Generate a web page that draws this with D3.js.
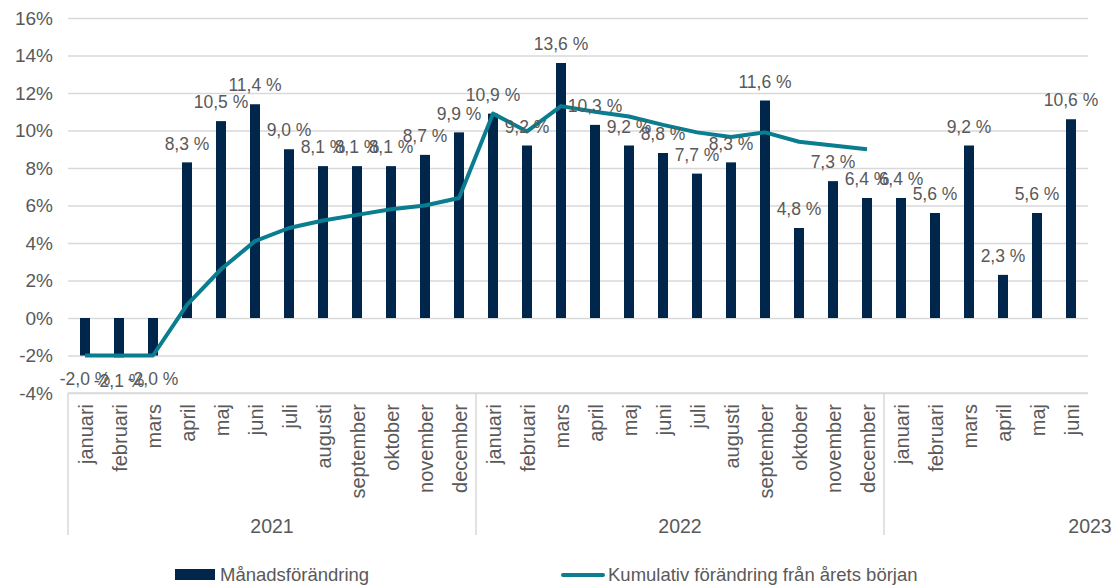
<!DOCTYPE html>
<html>
<head>
<meta charset="utf-8">
<script src="https://cdn.jsdelivr.net/npm/d3@7"></script>
<style>
  body { margin: 0; background: #fff; }
  svg text { font-family: "Liberation Sans", Arial, sans-serif; fill: #595959; }
</style>
</head>
<body>
<svg id="chart" width="1114" height="586"></svg>
<script>
const years = ['2021', '2022', '2023'];
const months = ['januari', 'februari', 'mars', 'april', 'maj', 'juni', 'juli', 'augusti',
  'september', 'oktober', 'november', 'december',
  'januari', 'februari', 'mars', 'april', 'maj', 'juni', 'juli', 'augusti',
  'september', 'oktober', 'november', 'december',
  'januari', 'februari', 'mars', 'april', 'maj', 'juni'];
const monthYear = [0, 0, 0, 0, 0, 0, 0, 0, 0, 0, 0, 0, 1, 1, 1, 1, 1, 1, 1, 1, 1, 1, 1, 1, 2, 2, 2, 2, 2, 2];
const monthly = [-2.0, -2.1, -2.0, 8.3, 10.5, 11.4, 9.0, 8.1, 8.1, 8.1, 8.7, 9.9,
  10.9, 9.2, 13.6, 10.3, 9.2, 8.8, 7.7, 8.3, 11.6, 4.8, 7.3, 6.4,
  6.4, 5.6, 9.2, 2.3, 5.6, 10.6];
const cumulative = [-2.0, -2.0, -2.0, 0.7, 2.6, 4.1, 4.8, 5.2, 5.5, 5.8, 6.0, 6.4,
  10.9, 9.95, 11.3, 11.0, 10.75, 10.3, 9.9, 9.65, 9.9, 9.4, 9.2, 9.0,
  null, null, null, null, null, null];
const yTicks = [-4, -2, 0, 2, 4, 6, 8, 10, 12, 14, 16];
const seriesNames = ['Månadsförändring', 'Kumulativ förändring från årets början'];

const barColor = '#00264b';
const lineColor = '#0b7d90';
const gridColor = '#d9d9d9';

const svg = d3.select('#chart');
const plot = {left: 68, right: 1088, top: 18, bottom: 393};

const x = d3.scaleBand()
  .domain(d3.range(months.length))
  .range([plot.left, plot.right]);
const y = d3.scaleLinear()
  .domain([-4, 16])
  .range([plot.bottom, plot.top]);

// gridlines + y labels
const yAxis = d3.axisLeft(y)
  .tickValues(yTicks)
  .tickSize(-(plot.right - plot.left))
  .tickPadding(15)
  .tickFormat(d => d + '%');
const gy = svg.append('g')
  .attr('transform', `translate(${plot.left},0)`)
  .call(yAxis);
gy.select('.domain').remove();
gy.selectAll('.tick line').attr('stroke', gridColor).attr('stroke-width', 1.5);
gy.selectAll('.tick text').style('font-size', '19px').attr('fill', '#595959');

// bars
const bw = 10;
svg.append('g').selectAll('rect')
  .data(monthly)
  .join('rect')
  .attr('x', (d, i) => x(i) + x.bandwidth() / 2 - bw / 2)
  .attr('y', d => y(Math.max(0, d)))
  .attr('width', bw)
  .attr('height', d => Math.abs(y(d) - y(0)))
  .attr('fill', barColor);

// cumulative line
const line = d3.line()
  .defined(d => d != null)
  .x((d, i) => x(i) + x.bandwidth() / 2)
  .y(d => y(d));
svg.append('path')
  .datum(cumulative)
  .attr('d', line)
  .attr('fill', 'none')
  .attr('stroke', lineColor)
  .attr('stroke-width', 4)
  .attr('stroke-linejoin', 'round');

// data labels (they overlap in places, as in the original)
const fmt = d => d3.format('.1f')(d).replace('.', ',').replace('−', '-') + ' %';
svg.append('g').selectAll('text')
  .data(monthly)
  .join('text')
  .attr('x', (d, i) => x(i) + x.bandwidth() / 2)
  .attr('y', d => d >= 0 ? y(d) - 19 : y(d) + 23)
  .attr('dy', '0.35em')
  .attr('text-anchor', 'middle')
  .style('font-size', '17.5px')
  .text(fmt);

// category axis
const axisG = svg.append('g');
axisG.append('line')
  .attr('x1', plot.left).attr('x2', plot.right)
  .attr('y1', plot.bottom).attr('y2', plot.bottom)
  .attr('stroke', gridColor).attr('stroke-width', 1.5);

const yearStarts = years.map((yr, k) => monthYear.indexOf(k));
axisG.selectAll('line.sep')
  .data(yearStarts)
  .join('line')
  .attr('class', 'sep')
  .attr('x1', d => x(d)).attr('x2', d => x(d))
  .attr('y1', plot.bottom).attr('y2', 535)
  .attr('stroke', gridColor).attr('stroke-width', 1.5);

axisG.selectAll('text.month')
  .data(months)
  .join('text')
  .attr('class', 'month')
  .attr('transform', (d, i) => `translate(${x(i) + x.bandwidth() / 2 + 8},404) rotate(-90)`)
  .attr('text-anchor', 'end')
  .style('font-size', '20px')
  .text(d => d);

const yearCenters = [
  (x(0) + x(12)) / 2,
  (x(12) + x(24)) / 2,
  1090
];
axisG.selectAll('text.year')
  .data(years)
  .join('text')
  .attr('class', 'year')
  .attr('x', (d, i) => yearCenters[i])
  .attr('y', 526)
  .attr('dy', '0.35em')
  .attr('text-anchor', 'middle')
  .style('font-size', '19.5px')
  .text(d => d);

// legend
const legend = svg.append('g');
legend.append('rect')
  .attr('x', 175).attr('y', 569).attr('width', 40).attr('height', 11)
  .attr('fill', barColor);
legend.append('text')
  .attr('x', 220).attr('y', 575).attr('dy', '0.35em')
  .style('font-size', '18.5px')
  .text(seriesNames[0]);
legend.append('line')
  .attr('x1', 563).attr('x2', 603).attr('y1', 575).attr('y2', 575)
  .attr('stroke', lineColor).attr('stroke-width', 4).attr('stroke-linecap', 'round');
legend.append('text')
  .attr('x', 608).attr('y', 575).attr('dy', '0.35em')
  .style('font-size', '18.5px')
  .text(seriesNames[1]);
</script>
</body>
</html>
